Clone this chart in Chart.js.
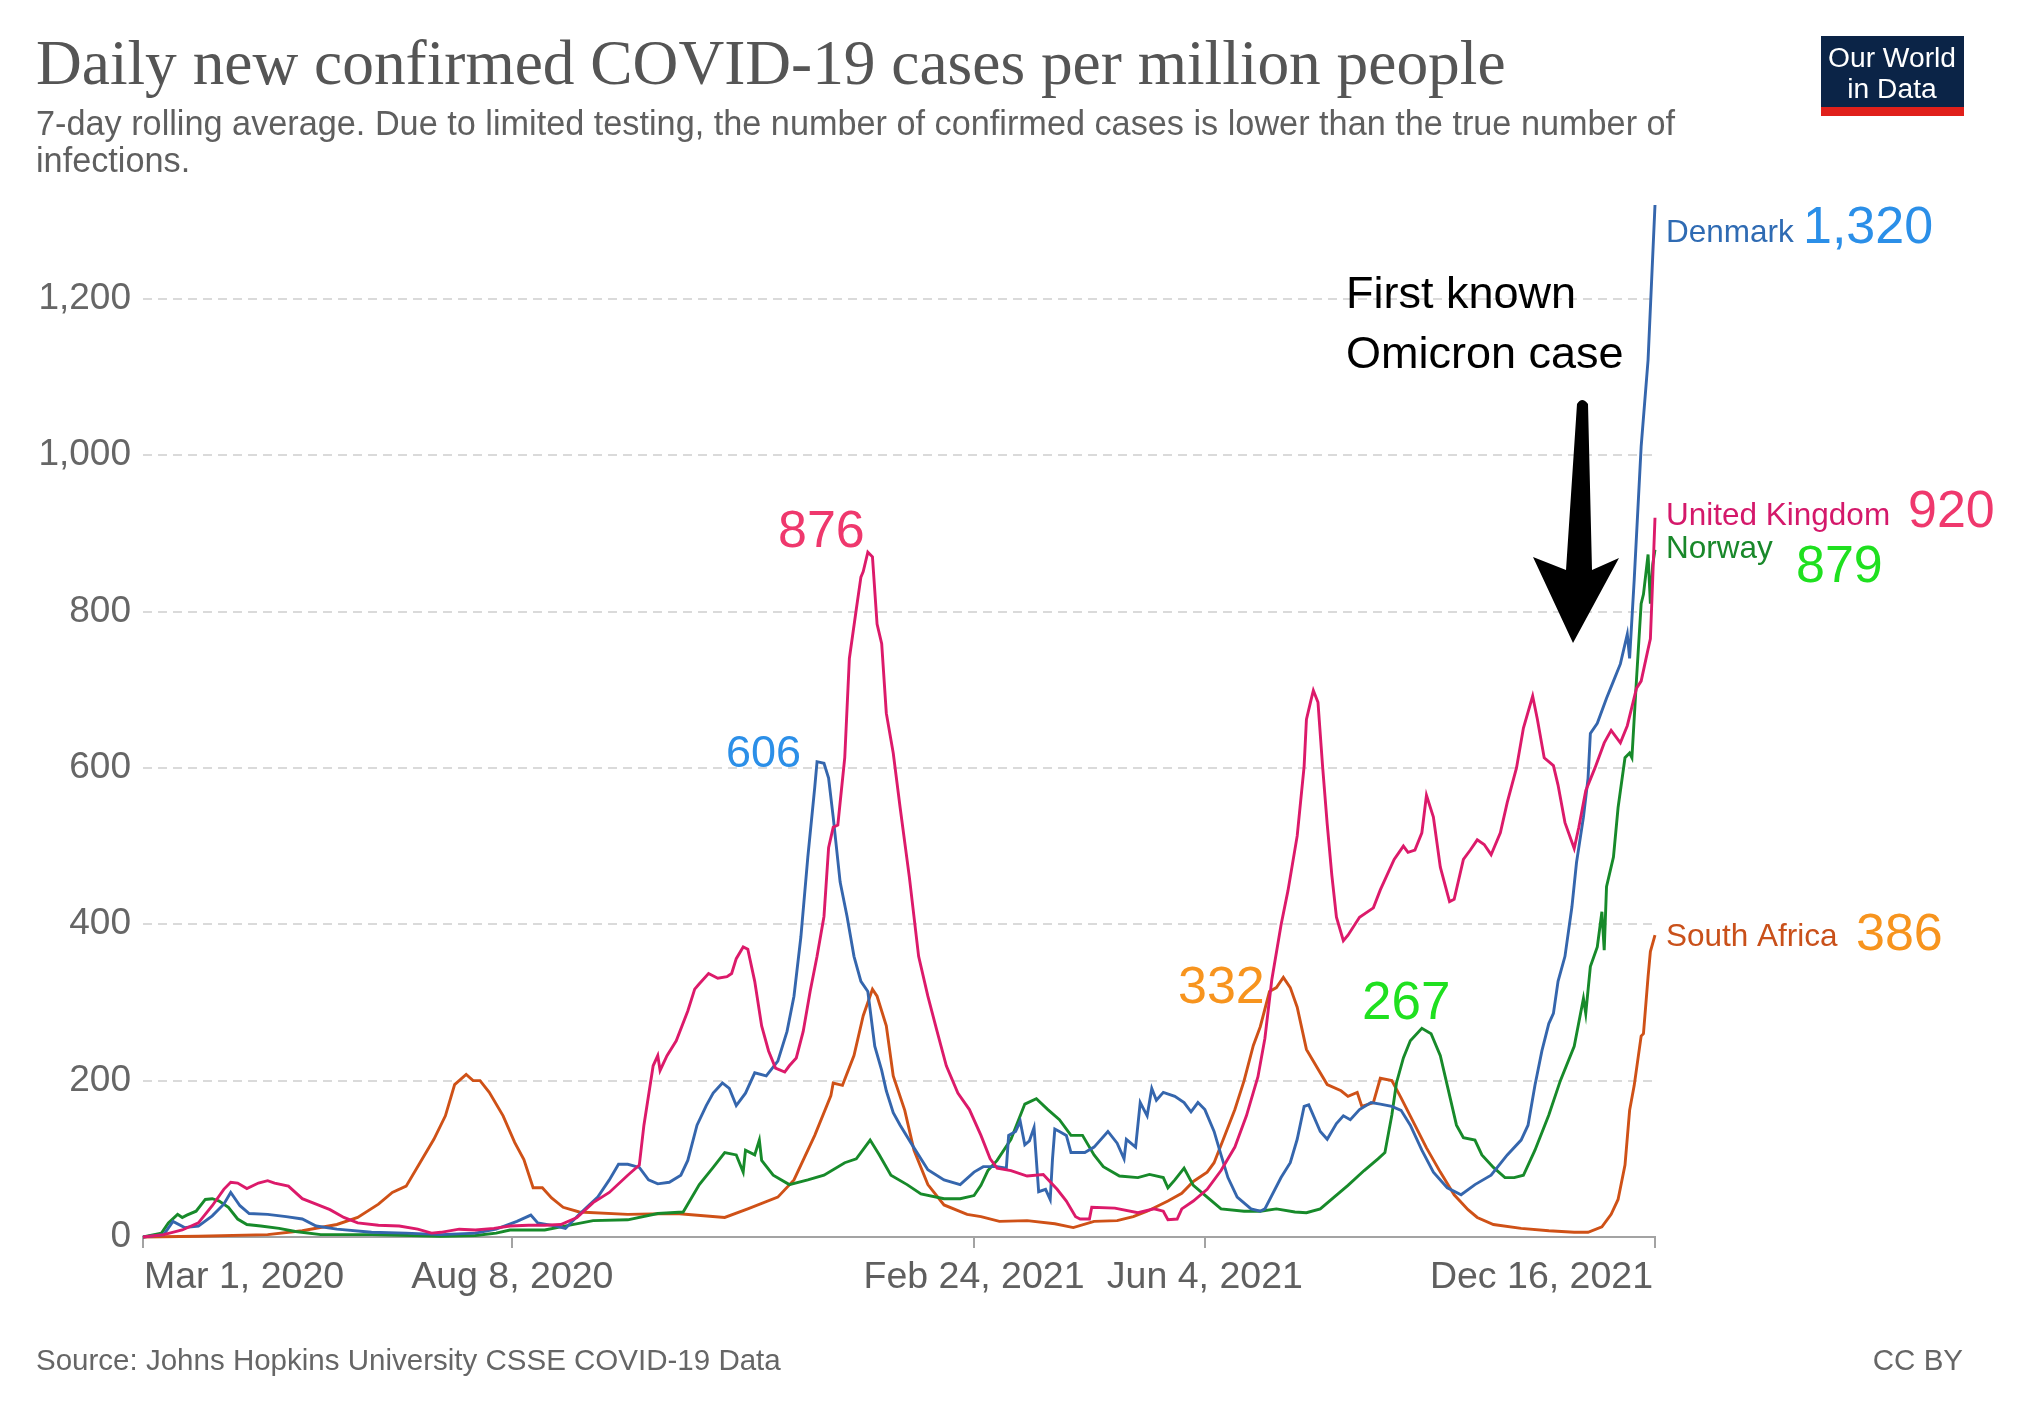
<!DOCTYPE html>
<html>
<head>
<meta charset="utf-8">
<script src="https://cdn.jsdelivr.net/npm/chart.js@4"></script>
<style>
html,body{margin:0;padding:0;background:#fff;}
canvas{display:block;}
</style>
</head>
<body>
<canvas id="c" width="2021" height="1412" style="width:2021px;height:1412px"></canvas>
<script>
// ---- Data: day index counted from Mar 1, 2020 ----
const denmarkDays = [0,9,13,18,24,30,35,38,42,46,54,62,69,75,84,99,114,129,144,153,162,168,171,179,183,189,197,202,206,210,215,219,223,228,233,236,240,244,247,251,254,257,261,265,270,275,279,282,285,288,291,292,295,297,299,302,305,308,311,314,317,320,322,325,328,334,340,347,354,360,364,370,374,375,378,380,382,384,386,388,391,393,394,395,397,400,402,408,412,418,422,425,426,430,432,435,437,439,442,447,451,454,457,460,464,467,470,474,480,484,486,493,497,500,503,505,510,513,517,520,523,527,532,536,541,545,549,554,559,565,571,577,584,591,597,600,603,606,609,611,613,616,619,621,624,626,627,630,634,637,640,643,644,646,649,652,655];
const denmarkValues = [0,3,20,12,14,27,42,57,40,30,29,26,23,14,10,6,5,3,5,10,20,28,18,14,11,29,51,73,93,93,89,73,68,70,79,98,143,168,184,197,190,168,184,210,206,225,263,308,384,486,575,608,606,587,537,454,410,359,327,314,244,213,187,159,143,114,86,73,67,83,90,90,88,130,135,148,118,123,140,58,61,48,100,138,135,130,108,108,115,135,120,100,125,115,172,155,190,175,185,180,172,160,172,163,135,105,76,51,36,33,36,76,95,125,167,169,135,125,145,155,150,163,172,170,167,162,143,111,83,63,54,67,79,105,124,143,194,238,273,286,327,359,422,479,537,587,644,657,689,711,733,771,740,841,1011,1122,1320];

const ukDays = [0,9,17,24,30,35,38,41,45,50,54,57,63,69,75,81,87,93,102,111,119,125,129,137,144,152,159,167,174,181,188,195,202,210,215,217,221,223,224,227,231,236,239,241,245,249,253,255,257,260,262,265,268,271,274,278,280,283,286,289,292,295,297,299,301,304,306,309,311,312,314,316,318,320,322,325,328,332,336,340,344,348,353,358,363,367,370,376,383,390,396,400,404,406,410,411,421,431,438,442,444,448,450,455,461,467,473,478,483,486,489,493,496,500,503,504,506,507,509,511,513,515,517,520,522,527,533,536,542,546,548,551,554,556,559,562,566,568,572,575,578,581,584,588,591,595,598,602,604,607,611,613,616,620,622,625,629,633,636,640,643,647,649,652,653,654,655];
const ukValues = [0,3,9,18,40,61,70,69,62,69,72,69,65,49,42,35,25,18,15,14,10,5,6,10,9,11,14,15,15,16,25,44,57,79,92,143,219,232,213,232,251,289,317,324,337,331,333,337,356,371,368,327,270,238,216,211,219,229,263,314,359,410,498,524,527,613,740,803,844,851,876,870,784,759,670,619,549,460,359,308,263,219,184,163,130,100,88,85,78,80,61,46,26,23,23,38,37,31,36,33,22,23,36,46,61,85,115,155,205,254,329,399,443,513,602,662,687,699,684,602,528,463,409,379,386,409,421,444,483,500,492,495,517,565,537,473,429,432,483,495,508,502,489,517,556,600,651,692,663,613,603,578,530,497,524,571,600,632,648,632,654,702,711,752,765,841,920];

const norwayDays = [0,8,11,15,17,19,23,27,30,33,37,41,45,51,59,66,77,99,129,144,153,159,174,181,195,210,223,234,241,247,252,257,260,261,265,267,268,273,280,288,295,304,309,315,319,324,331,337,347,354,360,363,366,370,376,382,387,392,397,402,407,412,416,423,431,436,442,444,447,451,455,461,467,477,484,491,499,504,510,516,522,529,535,538,541,543,546,549,554,558,562,565,569,572,577,580,585,590,594,598,603,609,614,620,624,625,627,630,632,633,634,637,639,642,644,645,647,649,650,652,653,654,655];
const norwayValues = [0,5,18,29,25,28,33,48,49,46,38,23,16,14,11,7,3,3,1,2,5,9,9,13,21,22,30,32,67,89,108,105,83,111,105,124,98,79,67,73,79,95,100,124,105,79,67,55,49,49,53,66,85,98,125,170,177,163,150,130,130,105,90,78,76,80,76,63,73,88,66,51,36,33,33,36,32,31,36,51,66,85,100,108,156,197,229,251,267,260,232,194,143,127,124,105,89,76,76,79,111,156,200,244,305,286,346,371,416,367,448,486,549,613,619,613,714,810,822,873,810,860,879];

const southAfricaDays = [0,24,54,69,84,93,102,108,114,120,126,131,135,140,143,146,150,156,161,165,169,173,177,182,189,210,231,252,262,275,282,291,298,299,303,308,312,316,318,322,325,330,334,340,347,357,363,371,383,395,403,412,422,429,435,444,450,455,461,464,468,473,477,481,484,488,491,494,497,500,504,509,513,519,522,526,528,533,536,541,545,551,556,562,568,574,578,585,597,609,620,626,632,636,639,642,644,646,649,650,652,653,655];
const southAfricaValues = [0,1,3,8,16,25,42,57,65,95,125,155,195,208,200,200,185,155,121,99,63,63,50,38,32,29,30,25,36,51,73,130,181,197,194,232,283,317,308,270,206,162,111,67,41,29,26,20,21,17,12,20,21,26,33,46,56,71,83,95,125,163,200,245,269,314,319,332,319,294,240,215,195,187,180,185,167,172,203,200,178,143,114,83,54,35,25,16,11,8,6,6,13,29,48,92,162,194,257,260,333,365,386];

const xTickDays = [0,160,360,460,655];
const xTickLabels = ['Mar 1, 2020','Aug 8, 2020','Feb 24, 2021','Jun 4, 2021','Dec 16, 2021'];
const yTickValues = [0,200,400,600,800,1000,1200];
const seriesNames = ['Denmark','United Kingdom','Norway','South Africa'];
const latestLabels = ['1,320','920','879','386'];
const peakLabels = ['876','606','332','267'];

const titleText = 'Daily new confirmed COVID-19 cases per million people';
const subtitleLines = ['7-day rolling average. Due to limited testing, the number of confirmed cases is lower than the true number of','infections.'];
const sourceText = 'Source: Johns Hopkins University CSSE COVID-19 Data';
const licenseText = 'CC BY';
const annotationLines = ['First known','Omicron case'];

// ---- Styles ----
const SANS = '"Liberation Sans", Arial, Helvetica, sans-serif';
const SERIF = '"Liberation Serif", "DejaVu Serif", serif';

function toPoints(days, vals){ return days.map((d,i)=>({x:d, y:vals[i]})); }
function mk(label, days, vals, color){
  return { label, data: toPoints(days, vals), borderColor: color, backgroundColor: color,
    borderWidth: 2.9, pointRadius: 0, tension: 0, fill: false, clip: 10 };
}
function fitSize(ctx, text, family, target){
  ctx.font = '100px ' + family;
  return 100 * target / ctx.measureText(text).width;
}

const textPlugin = {
  id: 'texts',
  afterDraw(chart){
    const ctx = chart.ctx;
    const xs = chart.scales.x;
    ctx.save();
    ctx.textBaseline = 'alphabetic';
    ctx.textAlign = 'left';

    // Title
    let s = fitSize(ctx, titleText, SERIF, 1470);
    ctx.font = s + 'px ' + SERIF; ctx.fillStyle = '#555';
    ctx.fillText(titleText, 36, 84);

    // Subtitle
    s = fitSize(ctx, subtitleLines[0], SANS, 1640);
    ctx.font = s + 'px ' + SANS; ctx.fillStyle = '#5f5f5f';
    ctx.fillText(subtitleLines[0], 36, 135);
    ctx.fillText(subtitleLines[1], 36, 172);

    // Logo
    ctx.fillStyle = '#0b2447'; ctx.fillRect(1821, 36, 143, 72);
    ctx.fillStyle = '#e0201b'; ctx.fillRect(1821, 107, 143, 9);
    ctx.fillStyle = '#ffffff'; ctx.textAlign = 'center';
    s = fitSize(ctx, 'Our World', SANS, 128);
    ctx.font = s + 'px ' + SANS;
    ctx.fillText('Our World', 1892, 67);
    ctx.fillText('in Data', 1892, 98);

    // Footer
    ctx.textAlign = 'left';
    s = fitSize(ctx, sourceText, SANS, 745);
    ctx.font = s + 'px ' + SANS; ctx.fillStyle = '#666';
    ctx.fillText(sourceText, 36, 1370);
    ctx.textAlign = 'right';
    ctx.fillText(licenseText, 1963, 1370);

    // X tick labels
    ctx.font = '37.5px ' + SANS; ctx.fillStyle = '#5f5f5f';
    xTickDays.forEach((d, i) => {
      const px = xs.getPixelForValue(d);
      if (i === 0) { ctx.textAlign = 'left'; ctx.fillText(xTickLabels[i], px + 1, 1288); }
      else if (i === xTickDays.length - 1) { ctx.textAlign = 'right'; ctx.fillText(xTickLabels[i], px - 2, 1288); }
      else { ctx.textAlign = 'center'; ctx.fillText(xTickLabels[i], px, 1288); }
    });

    // Series end labels
    ctx.textAlign = 'left';
    const nameColors = ['#2f6bb3','#d4186a','#19882a','#c9501a'];
    const namePos = [[1666,242],[1666,525],[1666,558],[1666,946]];
    const valColors = ['#2b8fe8','#ef386d','#1fe01f','#f7941e'];
    const valPos = [[1803,243],[1908,527],[1796,582],[1856,950]];
    ctx.font = '31.5px ' + SANS;
    seriesNames.forEach((n,i)=>{ ctx.fillStyle = nameColors[i]; ctx.fillText(n, namePos[i][0], namePos[i][1]); });
    ctx.font = '52px ' + SANS;
    latestLabels.forEach((t,i)=>{ ctx.fillStyle = valColors[i]; ctx.fillText(t, valPos[i][0], valPos[i][1]); });

    // Peak labels
    const peakColors = ['#ef386d','#2b8fe8','#f7941e','#1fe01f'];
    const peakPos = [[778,547],[726,767],[1178,1003],[1362,1019]];
    const peakSizes = [52,45,52,53];
    peakLabels.forEach((t,i)=>{
      ctx.font = peakSizes[i] + 'px ' + SANS; ctx.fillStyle = peakColors[i];
      ctx.fillText(t, peakPos[i][0], peakPos[i][1]);
    });

    // Annotation
    ctx.font = '45px ' + SANS; ctx.fillStyle = '#000';
    ctx.fillText(annotationLines[0], 1346, 308);
    ctx.fillText(annotationLines[1], 1346, 368);

    // Arrow
    ctx.beginPath();
    ctx.moveTo(1577, 404);
    ctx.quadraticCurveTo(1582, 396, 1588, 404);
    ctx.lineTo(1592, 570);
    ctx.lineTo(1619, 558);
    ctx.lineTo(1573, 643);
    ctx.lineTo(1533, 557);
    ctx.lineTo(1566, 570);
    ctx.closePath();
    ctx.fillStyle = '#000';
    ctx.fill();

    ctx.restore();
  }
};

new Chart(document.getElementById('c'), {
  type: 'line',
  data: { datasets: [
    mk('United Kingdom', ukDays, ukValues, '#dc1a6a'),
    mk('Denmark', denmarkDays, denmarkValues, '#3566ad'),
    mk('Norway', norwayDays, norwayValues, '#178a2a'),
    mk('South Africa', southAfricaDays, southAfricaValues, '#cf5117')
  ]},
  options: {
    responsive: false,
    animation: false,
    devicePixelRatio: 1,
    layout: { padding: { left: 0, right: 366, top: 205, bottom: 0 } },
    plugins: { legend: { display: false }, tooltip: { enabled: false } },
    scales: {
      x: {
        type: 'linear', min: 0, max: 655,
        afterBuildTicks: s => { s.ticks = xTickDays.map(v => ({ value: v })); },
        afterFit: s => { s.height = 175; },
        ticks: { display: false },
        grid: { drawOnChartArea: false, drawTicks: true, tickLength: 11, color: '#a3a3a3', lineWidth: 2 },
        border: { display: true, color: '#a3a3a3', width: 2 }
      },
      y: {
        type: 'linear', min: 0, max: 1320,
        afterBuildTicks: s => { s.ticks = yTickValues.map(v => ({ value: v })); },
        afterFit: s => { s.width = 143; },
        ticks: { color: '#666', font: { family: SANS, size: 37 }, padding: 12,
          callback: v => v.toLocaleString('en-US') },
        grid: { color: '#dadada', lineWidth: 2, drawTicks: false },
        border: { display: false, dash: [9, 6] }
      }
    }
  },
  plugins: [textPlugin]
});
</script>
</body>
</html>
